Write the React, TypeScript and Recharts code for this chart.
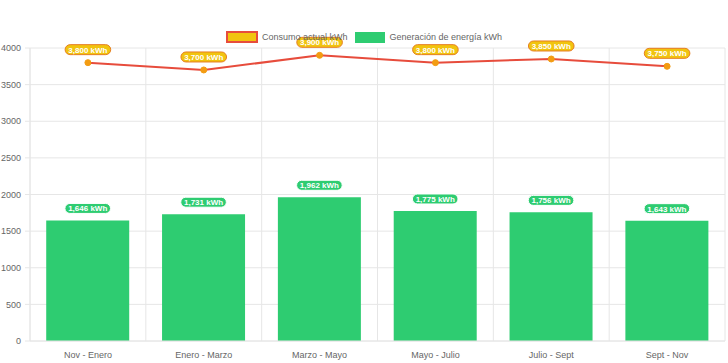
import React from 'react';
import {
  ComposedChart,
  Bar,
  Line,
  XAxis,
  YAxis,
  CartesianGrid,
  LabelList,
  Customized,
} from 'recharts';

const categories = ['Nov - Enero', 'Enero - Marzo', 'Marzo - Mayo', 'Mayo - Julio', 'Julio - Sept', 'Sept - Nov'];
const consumo = [3800, 3700, 3900, 3800, 3850, 3750];
const generacion = [1646, 1731, 1962, 1775, 1756, 1643];
const yTicks = [0, 500, 1000, 1500, 2000, 2500, 3000, 3500, 4000];

const data = categories.map((c, i) => ({ name: c, consumo: consumo[i], generacion: generacion[i] }));

const FONT = '"Liberation Sans", Arial, Helvetica, sans-serif';
const GRID = '#e6e6e6';

const fmt = (v: number) => v.toLocaleString('en-US') + ' kWh';

const Pill = ({ cx, cy, text, fill, stroke }: any) => {
  const w = text.length * 4.4 + 6;
  const h = 10;
  return (
    <g>
      <rect x={cx - w / 2} y={cy - h / 2} width={w} height={h} rx={5} ry={5} fill={fill} stroke={stroke} strokeWidth={1} />
      <text x={cx} y={cy + 3} textAnchor="middle" fill="#fff" fontSize={8} fontWeight="bold" fontFamily={FONT}>
        {text}
      </text>
    </g>
  );
};

const BarLabel = (props: any) => {
  const { x, y, width, value } = props;
  return <Pill cx={x + width / 2} cy={y - 12} text={fmt(value)} fill="#2ecc71" stroke="#ffffff" />;
};

const LineLabel = (props: any) => {
  const { x, y, value } = props;
  return <Pill cx={x} cy={y - 13} text={fmt(value)} fill="#f1c40f" stroke="#e67e22" />;
};

const BoundaryTicks = (props: any) => {
  const off = props.offset;
  if (!off) return null;
  const n = categories.length;
  const lines = [];
  for (let i = 0; i <= n; i++) {
    const x = off.left + (i * off.width) / n;
    lines.push(<line key={i} x1={x} x2={x} y1={off.top + off.height} y2={off.top + off.height + 6} stroke={GRID} />);
  }
  return <g>{lines}</g>;
};

export default function App() {
  return (
    <div style={{ position: 'absolute', left: 0, top: 0, width: 728, height: 363, background: '#fff' }}>
      <div
        style={{
          position: 'absolute',
          top: 31,
          left: 226,
          display: 'flex',
          alignItems: 'center',
          fontFamily: FONT,
          fontSize: 9,
          color: '#666',
          zIndex: 2,
          whiteSpace: 'nowrap',
        }}
      >
        <span style={{ display: 'inline-block', width: 28, height: 8, background: '#f1c40f', border: '2px solid #e74c3c' }} />
        <span style={{ marginLeft: 4, marginRight: 7 }}>Consumo actual kWh</span>
        <span style={{ display: 'inline-block', width: 30, height: 11, background: '#2ecc71' }} />
        <span style={{ marginLeft: 5 }}>Generación de energía kWh</span>
      </div>
      <ComposedChart
        width={728}
        height={363}
        data={data}
        margin={{ top: 48, right: 3, left: 0, bottom: 0 }}
        barCategoryGap="14%"
      >
        <CartesianGrid
          stroke={GRID}
          verticalCoordinatesGenerator={({ offset }: any) => {
            const n = categories.length;
            const arr = [];
            for (let i = 0; i <= n; i++) arr.push(offset.left + (i * offset.width) / n);
            return arr;
          }}
        />
        <XAxis
          dataKey="name"
          height={22}
          tickLine={false}
          axisLine={{ stroke: GRID }}
          tick={{ fontSize: 9, fill: '#666', fontFamily: FONT }}
          tickMargin={5}
          interval={0}
        />
        <YAxis
          width={30}
          domain={[0, 4000]}
          ticks={yTicks}
          tickLine={{ stroke: GRID }}
          tickSize={5}
          axisLine={{ stroke: GRID }}
          tick={{ fontSize: 9, fill: '#666', fontFamily: FONT }}
          tickMargin={4}
          interval={0}
        />
        <Bar dataKey="generacion" fill="#2ecc71" isAnimationActive={false}>
          <LabelList dataKey="generacion" content={BarLabel} />
        </Bar>
        <Line
          dataKey="consumo"
          stroke="#e74c3c"
          strokeWidth={2}
          dot={{ r: 3, fill: '#f39c12', stroke: '#f39c12', strokeWidth: 1 }}
          isAnimationActive={false}
        >
          <LabelList dataKey="consumo" content={LineLabel} />
        </Line>
        <Customized component={BoundaryTicks} />
      </ComposedChart>
    </div>
  );
}
